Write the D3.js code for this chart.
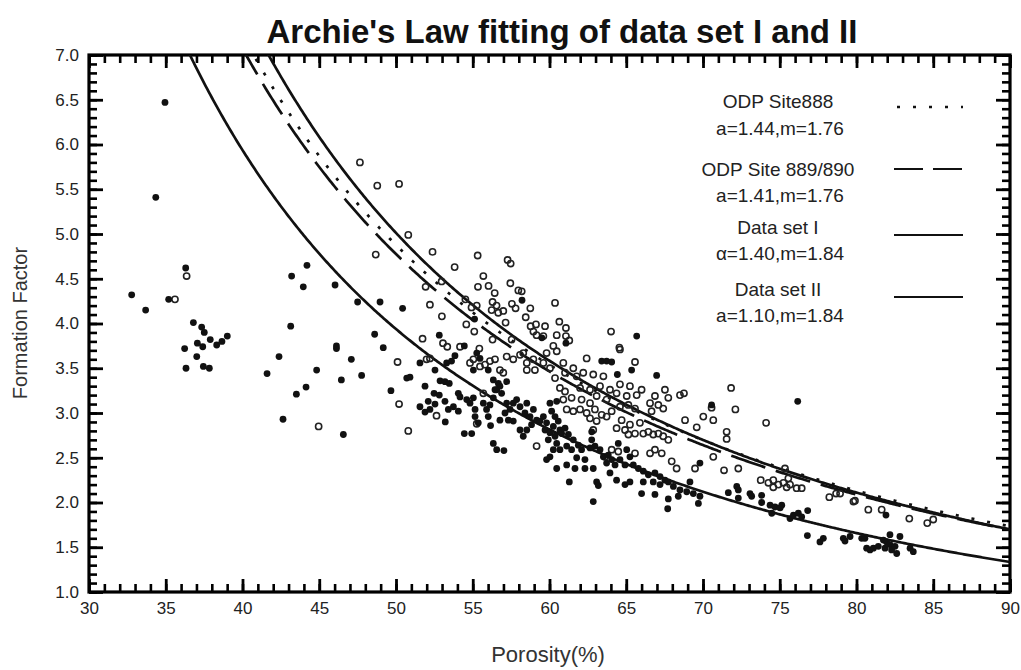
<!DOCTYPE html>
<html>
<head>
<meta charset="utf-8">
<script src="https://cdn.jsdelivr.net/npm/d3@7"></script>
<style>
  html, body { margin: 0; padding: 0; background: #fff; }
  svg { display: block; font-family: "Liberation Sans", Arial, Helvetica, sans-serif; }
</style>
</head>
<body>
<svg id="chart" width="1021" height="670"></svg>
<script>
// Porosity (%) and formation factor, data set I (open circles)
const setI = [
  [35.6,4.27],[36.36,4.53],[44.96,2.85],
  [47.65,5.80],[48.78,5.54],[50.2,5.56],[48.68,4.77],[50.8,4.99],[52.38,4.80],[53.82,4.63],[55.32,4.76],
  [57.27,4.71],[57.47,4.67],[55.69,4.53],[55.34,4.41],[56.03,4.42],[56.43,4.34],[57.45,4.45],[57.97,4.37],
  [58.19,4.36],[57.55,4.22],[57.79,4.17],[58.75,4.17],[58.45,4.07],[56.29,4.24],[56.55,4.20],[56.23,4.15],
  [56.66,4.12],[56.99,4.14],[54.92,4.18],[55.26,4.20],[54.58,3.99],[55.1,3.91],[52.21,4.21],[51.93,4.41],
  [52.97,4.47],[52.99,4.08],[54.52,4.27],[51.73,3.83],[53.06,3.78],[53.34,3.74],[54.17,3.74],[55.43,3.72],
  [56.29,3.82],[57.14,4.01],[57.53,3.82],[58.77,3.97],[59.12,3.99],[58.95,3.91],[59.16,3.87],
  [50.1,3.57],[50.2,3.10],[50.8,2.80],[52.64,2.97],[55.26,2.88],[55.69,3.22],[57.21,3.63],[57.64,3.60],
  [58.08,3.65],[58.52,3.56],[58.95,3.60],[58.52,3.48],[59.05,3.48],[58.29,3.67],[54.82,3.56],[55.04,3.60],
  [55.47,3.52],[55.8,3.54],[56.12,3.58],[56.45,3.60],[56.77,3.48],[56.99,3.45],[59.16,2.63],[51.99,3.60],
  [52.21,3.61],
  [60.36,4.23],[59.71,3.97],[60.64,4.02],[61.07,3.95],[60.47,3.87],[61.07,3.86],[61.29,3.81],[59.6,3.86],
  [60.25,3.75],[64.01,3.91],[64.55,3.73],
  [59.81,3.67],[60.47,3.69],[62.42,3.61],[64.59,3.71],[65.57,3.57],[59.6,3.56],[60.03,3.50],[60.9,3.56],
  [61.55,3.50],[62.2,3.45],[62.85,3.43],[63.51,3.41],[60.36,3.39],[61.01,3.45],[61.77,3.41],[64.59,3.32],
  [65.24,3.30],[63.94,3.26],[63.29,3.30],[62.64,3.26],[61.99,3.28],[61.01,3.24],[60.68,3.28],[61.44,3.17],
  [60.9,3.15],[62.09,3.15],[62.64,3.11],[63.07,3.19],[63.72,3.15],[64.37,3.22],[65.03,3.19],[65.68,3.20],
  [66.0,3.26],[66.87,3.19],[67.52,3.26],[67.74,3.17],[68.5,3.20],[68.76,3.22],[66.55,3.11],[67.09,3.09],
  [67.41,3.05],[61.12,3.04],[61.55,3.02],[61.99,3.04],[62.42,3.0],[62.96,3.04],[63.4,2.98],[62.64,2.94],
  [63.07,2.91],[63.72,2.96],[64.05,3.02],[64.59,3.07],[65.14,3.09],[65.57,3.05],[64.7,2.92],[64.37,2.83],
  [64.92,2.81],[65.24,2.87],[65.57,2.77],[65.89,2.89],[65.14,2.76],[62.85,2.81],[66.11,2.77],[66.44,2.79],
  [66.76,2.76],[67.09,2.77],[67.41,2.74],[67.74,2.70],[66.65,3.02],[68.83,2.92],[69.59,2.84],[70.02,2.96],
  [70.67,2.92],[70.67,2.51],[66.55,2.55],[66.87,2.59],[67.31,2.55],[67.96,2.46],[68.28,2.38],[69.48,2.38],
  [64.05,2.59],[64.48,2.57],[63.62,2.51],[65.57,2.55],[70.56,3.06],
  [71.83,3.28],[72.11,3.04],[74.11,2.89],[71.54,2.79],[71.54,2.71],[71.37,2.36],[72.3,2.38],[73.76,2.25],
  [74.26,2.22],[74.58,2.25],[74.58,2.17],[74.91,2.20],[75.24,2.22],[75.45,2.17],[75.67,2.20],[76.1,2.16],
  [76.43,2.16],[75.56,2.27],[75.34,2.38],[78.23,2.06],[78.67,2.10],[78.93,2.10],[79.8,2.01],[79.9,2.02],
  [80.77,1.92],[81.64,1.92],[83.44,1.82],[84.61,1.77],[85.0,1.81]
];

// Porosity (%) and formation factor, data set II (filled circles)
const setII = [
  [32.78,4.32],[33.69,4.15],[35.19,4.27],[36.3,4.62],[36.8,4.01],[36.23,3.72],[36.32,3.50],[37.34,3.96],
  [37.51,3.90],[37.06,3.78],[37.41,3.74],[37.02,3.63],[37.45,3.52],[37.84,3.50],[37.9,3.82],[38.32,3.76],
  [38.66,3.80],[39.01,3.86],[41.6,3.44],[43.14,3.97],[43.2,4.53],[44.2,4.65],[43.96,4.41],[42.38,3.63],
  [42.64,2.93],[43.51,3.21],[44.14,3.29],[44.83,3.48],[46.03,4.43],[46.12,3.75],[46.12,3.72],[46.44,3.37],
  [46.57,2.76],[47.09,3.60],[47.5,4.24],[47.76,3.42],[34.95,6.47],[34.35,5.41],
  [48.96,4.24],[50.43,4.17],[48.61,3.88],[49.17,3.73],[52.82,3.87],[54.45,3.75],[55.12,4.05],[58.21,4.26],
  [49.67,3.25],[50.7,3.39],[50.91,3.40],[51.56,3.56],[52.54,3.48],[51.89,3.30],[52.87,3.36],[53.19,3.35],
  [53.47,3.33],[52.48,3.22],[52.82,3.20],[52.1,3.13],[51.56,3.07],[51.89,3.01],[52.21,3.04],[52.54,3.10],
  [53.19,3.13],[53.41,3.04],[53.74,3.07],[54.06,3.02],[53.21,2.90],[54.06,3.22],[54.17,3.18],[54.61,3.15],
  [54.82,3.11],[55.04,3.17],[53.30,3.56],[53.62,3.58],[53.84,3.64],[54.45,2.77],[54.93,2.77],[55.15,2.96],
  [55.36,2.89],[55.15,3.04],[55.69,3.11],[56.01,2.96],[55.9,3.04],[56.12,3.09],[56.34,3.17],[56.56,3.26],
  [56.16,2.86],[56.34,2.66],[56.56,2.59],[57.03,2.58],[56.77,2.92],[57.1,3.0],[57.43,3.04],[57.21,3.11],
  [57.64,3.11],[57.86,3.15],[58.08,3.07],[58.52,3.11],[58.4,3.0],[58.73,2.96],[58.95,3.04],[59.16,2.92],
  [58.83,2.87],[58.52,2.81],[58.29,2.74],[58.08,2.81],[57.64,2.91],[57.32,2.92],[56.88,3.22],[56.77,3.30],
  [57.21,3.35],[55.26,3.67],[55.47,3.61],[55.04,3.48],[56.01,3.48],[56.34,3.37],[56.67,3.33],[56.45,3.26],
  [61.07,3.78],[59.5,3.84],[65.68,3.86],
  [63.4,3.58],[63.72,3.58],[64.05,3.57],[65.35,3.48],[64.42,3.43],[66.98,3.42],[70.56,3.09],
  [59.6,2.96],[59.38,2.91],[59.81,2.89],[59.71,2.81],[60.03,2.78],[60.36,2.74],[60.25,2.85],[59.92,2.70],
  [60.47,2.66],[60.68,2.81],[61.01,2.83],[61.23,2.76],[61.55,2.70],[60.68,2.59],[61.12,2.63],[60.25,2.59],
  [60.03,2.51],[59.81,2.48],[61.44,2.59],[61.88,2.64],[62.09,2.59],[61.77,2.50],[62.31,2.48],[62.64,2.61],
  [62.96,2.63],[63.29,2.59],[63.51,2.51],[63.83,2.53],[64.05,2.48],[63.72,2.44],[64.27,2.42],[64.59,2.48],
  [64.92,2.42],[65.24,2.51],[65.46,2.42],[65.79,2.38],[66.11,2.35],[66.44,2.31],[66.87,2.33],[67.2,2.29],
  [67.52,2.25],[66.76,2.23],[67.2,2.20],[67.74,2.23],[68.07,2.18],[68.5,2.14],[68.94,2.12],[69.37,2.10],
  [69.8,2.07],[63.07,2.23],[63.18,2.19],[63.94,2.33],[64.37,2.25],[64.92,2.20],[65.24,2.23],[66.0,2.10],
  [66.87,2.09],[67.74,2.04],[67.7,1.93],[68.39,2.07],[69.7,1.99],[69.8,2.44],[64.48,2.66],[65.03,2.59],
  [60.14,3.02],[60.36,2.96],[60.47,3.13],[60.03,3.11],[62.75,2.70],[62.75,2.79],[61.12,2.42],[60.47,2.38],
  [61.66,2.38],[62.31,2.38],[62.85,2.38],[61.29,2.23],[62.85,2.01],[60.79,2.77],[60.57,2.91],[66.11,2.23],
  [69.15,2.23],
  [76.17,3.13],[71.65,2.11],[72.2,2.18],[72.3,2.14],[72.3,2.05],[73.06,2.10],[73.17,2.07],[73.82,2.08],
  [73.82,2.00],[74.37,1.97],[74.69,1.95],[75.13,1.97],[75.02,1.94],[74.48,1.88],[75.67,1.82],[75.89,1.86],
  [76.21,1.88],[76.43,1.84],[76.82,1.91],[81.92,1.86],
  [76.8,1.63],[77.62,1.56],[77.84,1.60],[79.14,1.60],[79.25,1.57],[79.58,1.62],[80.34,1.60],[80.55,1.60],
  [80.66,1.49],[80.88,1.47],[81.1,1.49],[81.42,1.51],[81.75,1.58],[81.96,1.56],[81.86,1.49],[82.18,1.53],
  [82.29,1.47],[82.51,1.51],[82.62,1.43],[82.83,1.62],[82.18,1.64],[83.49,1.49],[83.7,1.45]
];

// Archie's law fits F = a * phi^-m
const fitNames  = ["ODP Site888", "ODP Site 889/890", "Data set I", "Data set II"];
const fitLabels = ["a=1.44,m=1.76", "a=1.41,m=1.76", "\u03b1=1.40,m=1.84", "a=1.10,m=1.84"];
const fitA      = [1.44, 1.41, 1.40, 1.10];
const fitM      = [1.76, 1.76, 1.84, 1.84];
const fitStyle  = ["dotted", "dashed", "solid", "solid"];

// Axis ticks
const xMajor = [30, 35, 40, 45, 50, 55, 60, 65, 70, 75, 80, 85, 90];
const yMajor = [1.0, 1.5, 2.0, 2.5, 3.0, 3.5, 4.0, 4.5, 5.0, 5.5, 6.0, 6.5, 7.0];

const svg = d3.select("#chart");
const L = 89, R = 1010, T = 55, B = 592;

const x = d3.scaleLinear().domain([30, 90]).range([L, R]);
const y = d3.scaleLinear().domain([1, 7]).range([B, T]);

const xMinor = d3.range(30, 91, 1);
const yMinor = d3.range(10, 71, 1).map(v => v / 10);

svg.append("defs").append("clipPath").attr("id", "plotClip")
  .append("rect").attr("x", L).attr("y", T).attr("width", R - L).attr("height", B - T);

// Title and axis titles
svg.append("text")
  .attr("x", 562).attr("y", 43)
  .attr("text-anchor", "middle")
  .attr("font-size", 33).attr("font-weight", "bold").attr("fill", "#111")
  .text("Archie's Law fitting of data set I and II");

svg.append("text")
  .attr("transform", "translate(27,323) rotate(-90)")
  .attr("text-anchor", "middle")
  .attr("font-size", 20).attr("fill", "#333")
  .text("Formation Factor");

svg.append("text")
  .attr("x", 548).attr("y", 662)
  .attr("text-anchor", "middle")
  .attr("font-size", 22).attr("fill", "#333")
  .text("Porosity(%)");

// Axes with inward ticks on all four sides
function styleAxis(g, width) {
  g.select(".domain").remove();
  g.selectAll(".tick line").attr("stroke", "#000").attr("stroke-width", width);
  g.selectAll(".tick text").attr("fill", "#222").attr("font-size", 17)
    .attr("font-family", "Liberation Sans, Arial, sans-serif");
}

svg.append("g").attr("transform", `translate(0,${B})`)
  .call(d3.axisBottom(x).tickValues(xMinor).tickSize(-8).tickFormat(""))
  .call(g => styleAxis(g, 2.6));
svg.append("g").attr("transform", `translate(0,${B})`)
  .call(d3.axisBottom(x).tickValues(xMajor).tickSize(-13).tickPadding(10).tickFormat(d3.format("d")))
  .call(g => styleAxis(g, 2.8));
svg.append("g").attr("transform", `translate(0,${T})`)
  .call(d3.axisTop(x).tickValues(xMinor).tickSize(-8).tickFormat(""))
  .call(g => styleAxis(g, 2.6));
svg.append("g").attr("transform", `translate(0,${T})`)
  .call(d3.axisTop(x).tickValues(xMajor).tickSize(-13).tickFormat(""))
  .call(g => styleAxis(g, 2.8));

svg.append("g").attr("transform", `translate(${L},0)`)
  .call(d3.axisLeft(y).tickValues(yMinor).tickSize(-8).tickFormat(""))
  .call(g => styleAxis(g, 2.6));
svg.append("g").attr("transform", `translate(${L},0)`)
  .call(d3.axisLeft(y).tickValues(yMajor).tickSize(-14).tickPadding(10).tickFormat(d3.format(".1f")))
  .call(g => styleAxis(g, 2.8));
svg.append("g").attr("transform", `translate(${R},0)`)
  .call(d3.axisRight(y).tickValues(yMinor).tickSize(-8).tickFormat(""))
  .call(g => styleAxis(g, 2.6));
svg.append("g").attr("transform", `translate(${R},0)`)
  .call(d3.axisRight(y).tickValues(yMajor).tickSize(-14).tickFormat(""))
  .call(g => styleAxis(g, 2.8));

// Plot frame
svg.append("rect")
  .attr("x", L).attr("y", T).attr("width", R - L).attr("height", B - T)
  .attr("fill", "none").attr("stroke", "#000").attr("stroke-width", 3.2);

// Fitted curves
const dashFor = { dotted: "3,13", dashed: "36,11", solid: null };
const porosityGrid = d3.range(30, 90.01, 0.1);
const line = d3.line().x(d => x(d[0])).y(d => y(d[1]));
const curves = svg.append("g").attr("clip-path", "url(#plotClip)");
fitA.forEach((a, i) => {
  const pts = porosityGrid.map(p => [p, a * Math.pow(p / 100, -fitM[i])]).filter(d => d[1] <= 7.6);
  curves.append("path")
    .attr("d", line(pts))
    .attr("fill", "none").attr("stroke", "#111")
    .attr("stroke-width", 2.7)
    .attr("stroke-dasharray", dashFor[fitStyle[i]]);
});

// Data points
const pts = svg.append("g").attr("clip-path", "url(#plotClip)");
pts.selectAll("circle.open").data(setI).join("circle")
  .attr("class", "open")
  .attr("cx", d => x(d[0])).attr("cy", d => y(d[1])).attr("r", 3.1)
  .attr("fill", "none").attr("stroke", "#222").attr("stroke-width", 1.6);
pts.selectAll("circle.filled").data(setII).join("circle")
  .attr("class", "filled")
  .attr("cx", d => x(d[0])).attr("cy", d => y(d[1])).attr("r", 3.4)
  .attr("fill", "#111");

// Legend
const legendRows = [
  { name: 108, label: 135, line: 107 },
  { name: 176, label: 202, line: 169 },
  { name: 234, label: 260, line: 235 },
  { name: 296, label: 322, line: 297 }
];
const legendDash = { dotted: "3,13", dashed: "29,10", solid: null };
const legend = svg.append("g");
fitNames.forEach((n, i) => {
  const row = legendRows[i];
  legend.append("text").attr("x", 778).attr("y", row.name)
    .attr("text-anchor", "middle").attr("font-size", 19).attr("fill", "#222").text(n);
  legend.append("text").attr("x", 780).attr("y", row.label)
    .attr("text-anchor", "middle").attr("font-size", 19).attr("fill", "#222").text(fitLabels[i]);
  legend.append("line")
    .attr("x1", fitStyle[i] === "dotted" ? 897 : 894).attr("x2", 963)
    .attr("y1", row.line).attr("y2", row.line)
    .attr("stroke", "#111").attr("stroke-width", fitStyle[i] === "dotted" ? 2.6 : 2)
    .attr("stroke-dasharray", legendDash[fitStyle[i]]);
});
</script>
</body>
</html>
